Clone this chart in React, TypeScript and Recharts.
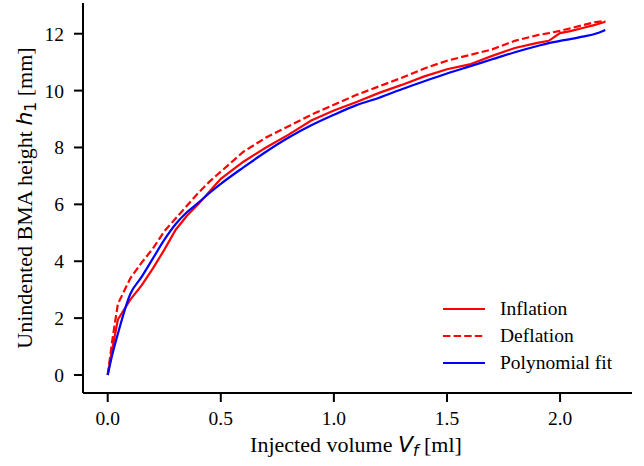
import React from 'react';
import { LineChart, Line, XAxis, YAxis, Label } from 'recharts';

// injected volume [ml]
const volume = [0, 0.02, 0.045, 0.1, 0.15, 0.2, 0.25, 0.3, 0.35, 0.4, 0.45, 0.5, 0.6, 0.7, 0.8, 0.9, 1.0, 1.1, 1.2, 1.3, 1.4, 1.5, 1.6, 1.7, 1.8, 1.9, 1.95, 2.0, 2.05, 2.1, 2.15, 2.2];
// unindented height [mm]
const inflation = [0, 0.9, 1.95, 2.65, 3.15, 3.75, 4.4, 5.1, 5.6, 6.0, 6.45, 6.9, 7.5, 8.0, 8.45, 8.95, 9.3, 9.6, 9.92, 10.2, 10.5, 10.75, 10.92, 11.22, 11.5, 11.68, 11.75, 12.02, 12.1, 12.2, 12.3, 12.42];
const deflation = [0, 1.2, 2.5, 3.4, 3.95, 4.45, 5.05, 5.5, 5.95, 6.4, 6.8, 7.15, 7.85, 8.35, 8.75, 9.15, 9.5, 9.85, 10.15, 10.45, 10.78, 11.05, 11.25, 11.45, 11.75, 11.95, 12.02, 12.1, 12.2, 12.3, 12.4, 12.45];
const polyFit = [0, 0.7, 1.45, 2.85, 3.45, 4.1, 4.75, 5.3, 5.72, 6.05, 6.4, 6.72, 7.3, 7.85, 8.35, 8.78, 9.15, 9.49, 9.75, 10.05, 10.33, 10.6, 10.85, 11.1, 11.35, 11.57, 11.67, 11.75, 11.82, 11.9, 11.98, 12.13];

const xTicks = [0, 0.5, 1.0, 1.5, 2.0];
const yTicks = [0, 2, 4, 6, 8, 10, 12];

const rows = volume.map((v, i) => ({ v, inflation: inflation[i], deflation: deflation[i], fit: polyFit[i] }));

const serif = '"Liberation Serif", "Times New Roman", serif';
const mathFont = '"DejaVu Sans", sans-serif';

const legendItems = [
  { name: 'Inflation', color: '#ff0000', dash: undefined },
  { name: 'Deflation', color: '#ff0000', dash: '7.4 3.2' },
  { name: 'Polynomial fit', color: '#0000ff', dash: undefined },
];

const LegendBox = () => (
  <svg width={200} height={90} style={{ position: 'absolute', left: 440, top: 297 }}>
    {legendItems.map((it, i) => (
      <g key={it.name}>
        <line x1={3} x2={45} y1={12 + i * 27} y2={12 + i * 27} stroke={it.color} strokeWidth={2.2} strokeDasharray={it.dash} />
        <text x={60} y={12 + i * 27} dy="0.33em" fontFamily={serif} fontSize={19.5} fill="#000">{it.name}</text>
      </g>
    ))}
  </svg>
);

export default function App() {
  return (
    <div style={{ position: 'absolute', left: 0, top: 0, width: 644, height: 466, background: '#fff' }}>
      <LineChart width={644} height={466} data={rows} margin={{ top: 3, right: 12, left: 0, bottom: 0 }}>
        <XAxis
          dataKey="v"
          type="number"
          domain={[-0.1092, 2.318]}
          ticks={xTicks}
          tickFormatter={(t: number) => t.toFixed(1)}
          allowDataOverflow
          height={73}
          tickSize={9}
          tickMargin={9}
          axisLine={{ stroke: '#000', strokeWidth: 2 }}
          tickLine={{ stroke: '#000', strokeWidth: 2 }}
          tick={{ fill: '#000', fontFamily: serif, fontSize: 19.5 }}
        >
          <Label
            content={() => (
              <text x={356} y={452} textAnchor="middle" fontFamily={serif} fontSize={22} fill="#000">
                Injected volume{' '}
                <tspan fontFamily={mathFont} fontStyle="italic">V</tspan>
                <tspan fontFamily={mathFont} fontStyle="italic" fontSize={15.5} dy={4}>f</tspan>
                <tspan dy={-4}> [ml]</tspan>
              </text>
            )}
          />
        </XAxis>
        <YAxis
          type="number"
          domain={[-0.633, 13.08]}
          ticks={yTicks}
          allowDataOverflow
          width={83}
          tickSize={9}
          tickMargin={10}
          axisLine={{ stroke: '#000', strokeWidth: 2 }}
          tickLine={{ stroke: '#000', strokeWidth: 2 }}
          tick={{ fill: '#000', fontFamily: serif, fontSize: 19.5 }}
        >
          <Label
            content={() => (
              <text x={32} y={198} transform="rotate(-90 32 198)" textAnchor="middle" fontFamily={serif} fontSize={22} fill="#000">
                Unindented BMA height{' '}
                <tspan fontFamily={mathFont} fontStyle="italic">h</tspan>
                <tspan fontFamily={mathFont} fontSize={15.5} dy={4}>1</tspan>
                <tspan dy={-4}> [mm]</tspan>
              </text>
            )}
          />
        </YAxis>
        <Line dataKey="inflation" name="Inflation" type="linear" stroke="#ff0000" strokeWidth={2.2} dot={false} isAnimationActive={false} />
        <Line dataKey="deflation" name="Deflation" type="linear" stroke="#ff0000" strokeWidth={2.2} strokeDasharray="7.4 3.2" dot={false} isAnimationActive={false} />
        <Line dataKey="fit" name="Polynomial fit" type="monotone" stroke="#0000ff" strokeWidth={2.2} dot={false} isAnimationActive={false} />
      </LineChart>
      <LegendBox />
    </div>
  );
}
